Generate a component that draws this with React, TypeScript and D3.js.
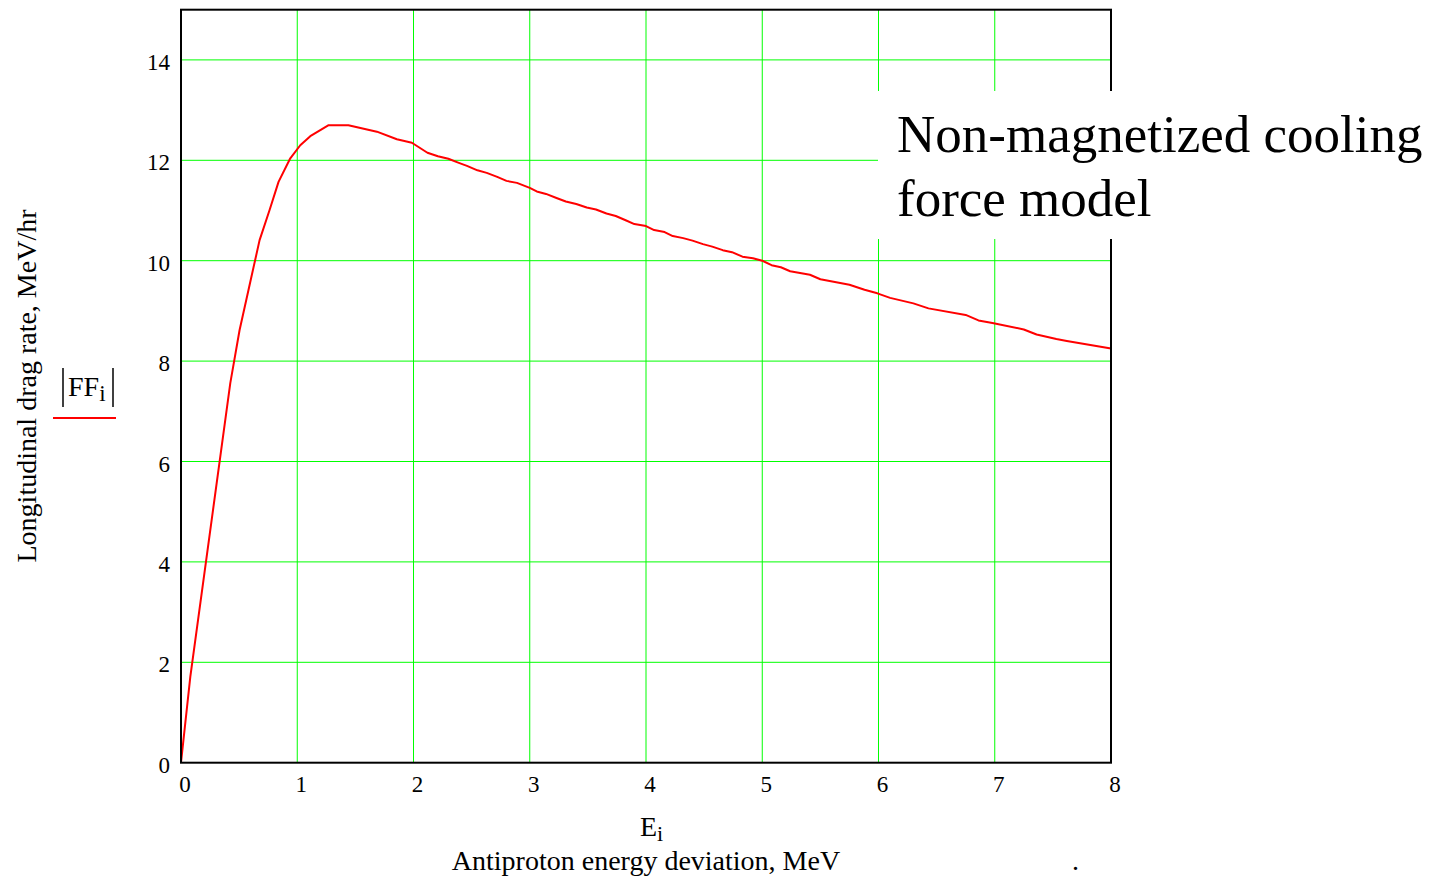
import React from "react";
import * as d3 from "d3";

const energy = [0, 0.08, 0.424, 0.504, 0.581, 0.676, 0.762, 0.839, 0.94, 1.026, 1.112, 1.27, 1.44, 1.685, 1.857, 1.986, 2.12, 2.21, 2.3, 2.39, 2.46, 2.55, 2.63, 2.72, 2.8, 2.89, 3.0, 3.06, 3.14, 3.23, 3.31, 3.4, 3.49, 3.57, 3.66, 3.74, 3.83, 3.9, 4.0, 4.07, 4.16, 4.23, 4.32, 4.4, 4.49, 4.57, 4.66, 4.74, 4.83, 4.92, 5.0, 5.08, 5.16, 5.24, 5.41, 5.5, 5.75, 5.88, 5.99, 6.1, 6.3, 6.43, 6.75, 6.86, 6.98, 7.25, 7.36, 7.53, 7.62, 8.0];
const force = [0, 1.71, 7.56, 8.62, 9.42, 10.41, 11.01, 11.57, 12.04, 12.3, 12.48, 12.7, 12.7, 12.57, 12.42, 12.35, 12.15, 12.08, 12.03, 11.95, 11.89, 11.8, 11.75, 11.67, 11.59, 11.55, 11.45, 11.38, 11.33, 11.25, 11.18, 11.13, 11.06, 11.02, 10.94, 10.89, 10.8, 10.73, 10.69, 10.61, 10.57, 10.49, 10.45, 10.4, 10.33, 10.28, 10.21, 10.17, 10.08, 10.05, 10.0, 9.91, 9.87, 9.79, 9.72, 9.63, 9.52, 9.42, 9.35, 9.26, 9.15, 9.05, 8.92, 8.81, 8.76, 8.63, 8.53, 8.44, 8.4, 8.25];

const xTicks = [0, 1, 2, 3, 4, 5, 6, 7, 8];
const yTicks = [0, 2, 4, 6, 8, 10, 12, 14];

const xTitle = "Antiproton energy deviation, MeV";
const yTitle = "Longitudinal drag rate, MeV/hr";
const noteLines = ["Non-magnetized cooling", "force model"];

export default function App() {
  const W = 1432, H = 877;
  const x = d3.scaleLinear().domain([0, 8]).range([181, 1111]);
  const y = d3.scaleLinear().domain([0, 15]).range([762.7, 9.7]);
  const pts: [number, number][] = energy.map((e, i) => [e, force[i]]);
  const line = d3.line<[number, number]>().x(d => x(d[0])).y(d => y(d[1]));
  const font = "'Liberation Serif', 'Times New Roman', serif";
  const green = "#00ff00";

  return (
    <svg width={W} height={H} style={{ position: "absolute", left: 0, top: 0, background: "#fff" }} fontFamily={font}>
      <rect x={0} y={0} width={W} height={H} fill="#fff" />
      {xTicks.slice(1).map(t => (
        <line key={"gx" + t} x1={x(t)} x2={x(t)} y1={y(15)} y2={y(0)} stroke={green} strokeWidth={1} />
      ))}
      {yTicks.slice(1).map(t => (
        <line key={"gy" + t} x1={x(0)} x2={x(8)} y1={y(t)} y2={y(t)} stroke={green} strokeWidth={1} />
      ))}
      <path d={line(pts) || ""} fill="none" stroke="#ff0000" strokeWidth={2} strokeLinejoin="round" />
      <rect x={x(0)} y={y(15)} width={x(8) - x(0)} height={y(0) - y(15)} fill="none" stroke="#000" strokeWidth={2} />
      {xTicks.map(t => (
        <text key={"xt" + t} x={x(t) + 4} y={792} fontSize={23} textAnchor="middle" fill="#000">{t}</text>
      ))}
      {yTicks.map(t => (
        <text key={"yt" + t} x={170} y={y(t) + 10} fontSize={23} textAnchor="end" fill="#000">{t}</text>
      ))}
      <text x={640} y={836} fontSize={28} fill="#000">E<tspan fontSize={22} dy={5}>i</tspan></text>
      <text x={646} y={870} fontSize={28} textAnchor="middle" fill="#000">{xTitle}</text>
      <text x={1072} y={870} fontSize={28} fill="#000">.</text>
      <text transform="translate(36,386) rotate(-90)" fontSize={28} textAnchor="middle" fill="#000">{yTitle}</text>
      <line x1={63} x2={63} y1={368} y2={407} stroke="#000" strokeWidth={1.5} />
      <line x1={113} x2={113} y1={368} y2={407} stroke="#000" strokeWidth={1.5} />
      <text x={68} y={396} fontSize={28} fill="#000">FF<tspan fontSize={23} dy={5}>i</tspan></text>
      <line x1={53} x2={116} y1={418} y2={418} stroke="#ff0000" strokeWidth={2} />
      <rect x={878} y={91} width={W - 878} height={148} fill="#fff" />
      {noteLines.map((s, i) => (
        <text key={s} x={897} y={152 + i * 64} fontSize={53} fill="#000">{s}</text>
      ))}
    </svg>
  );
}
